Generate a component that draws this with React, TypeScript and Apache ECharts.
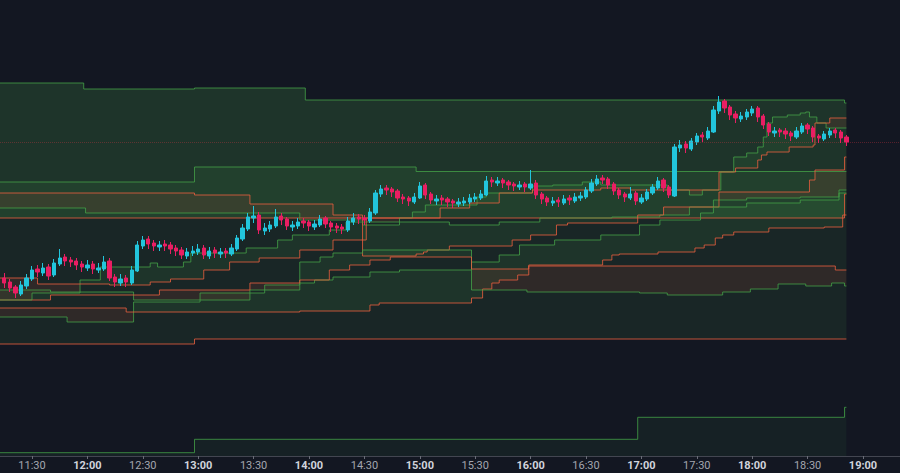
import React, { useEffect, useRef } from "react";
import * as echarts from "echarts";

// ---------- data ----------
const END_TIME = "18:51";
const CANDLE_START = "11:15";
const CANDLE_STEP_MIN = 3;

// [open, close, low, high]
const candleOHLC: number[][] = [
  [178,173,168,183],[174,168,164,177],[169,163,158,171],[162,171,160,175],[170,178,167,182],
  [177,186,175,190],[187,184,179,191],[183,188,180,193],[189,180,176,192],[181,193,179,197],
  [192,198,190,207],[199,195,190,202],[196,194,189,199],[195,191,186,198],[192,189,184,195],
  [188,191,185,196],[192,187,182,195],[186,188,183,193],[187,194,185,200],[195,178,175,198],
  [179,174,169,182],[173,177,170,182],[178,174,169,181],[173,186,171,190],[185,211,184,215],
  [210,216,207,220],[217,212,207,220],[213,210,205,216],[209,211,205,215],[212,210,205,216],
  [211,207,202,214],[208,205,200,211],[206,201,197,209],[200,204,197,208],[203,205,200,210],
  [204,207,201,212],[208,201,197,211],[200,205,197,209],[206,203,198,209],[202,204,198,208],
  [205,203,198,208],[202,208,200,212],[207,218,205,221],[217,228,215,232],[227,239,225,243],
  [238,240,233,250],[241,226,222,244],[225,228,221,233],[227,231,224,235],[230,239,228,247],
  [240,236,231,243],[237,230,226,239],[229,231,225,235],[230,234,227,238],[235,233,228,238],
  [234,230,225,236],[229,232,226,236],[231,237,229,241],[238,232,228,240],[233,229,224,235],
  [230,228,223,233],[229,227,222,232],[226,235,224,239],[234,238,231,243],[239,237,232,242],
  [238,236,231,241],[235,244,233,248],[243,263,241,266],[262,267,259,271],[268,266,261,271],
  [267,264,259,269],[265,258,254,267],[259,257,252,262],[258,255,250,260],[254,259,252,263],
  [258,270,257,274],[271,261,257,273],[262,256,252,264],[255,257,251,261],[258,256,251,261],
  [257,254,249,259],[255,253,248,257],[252,254,249,258],[253,255,250,259],[254,258,252,262],
  [257,259,254,263],[258,262,256,266],[261,275,260,280],[276,274,269,279],[273,275,270,279],
  [276,273,268,278],[274,271,266,276],[272,270,265,274],[269,271,266,275],[272,269,264,274],
  [268,272,266,286],[273,261,257,276],[262,257,252,264],[258,254,250,260],[253,255,250,259],
  [256,254,249,259],[253,257,251,261],[258,256,251,261],[255,259,253,263],[258,260,255,264],
  [259,266,257,269],[265,273,263,277],[272,277,270,281],[278,276,272,281],[277,271,267,279],
  [272,265,261,274],[266,261,257,268],[262,259,254,264],[258,262,256,269],[263,255,251,265],
  [254,258,252,262],[257,264,255,267],[263,269,261,272],[268,275,266,279],[276,268,264,278],
  [269,261,258,271],[260,309,259,312],[308,311,304,316],[312,308,303,315],[307,315,305,318],
  [314,320,311,323],[321,319,314,324],[318,325,316,329],[324,346,323,350],[345,354,342,360],
  [355,348,343,357],[349,341,336,351],[342,338,333,345],[337,340,334,344],[339,344,336,347],
  [343,347,340,350],[348,339,334,350],[340,331,327,342],[332,324,320,334],[323,325,319,329],
  [326,324,319,328],[325,322,317,328],[323,320,315,325],[319,325,317,329],[324,330,322,333],
  [331,327,322,333],[328,319,314,330],[320,318,313,322],[317,322,315,325],[321,325,318,328],
  [326,323,318,328],[324,318,313,326],[319,314,310,321],
];

const axisTickTimes = ["11:30","12:00","12:30","13:00","13:30","14:00","14:30","15:00","15:30","16:00","16:30","17:00","17:30","18:00","18:30","19:00"];

type P = [string, number];
// Cloud A (slow)
const cloudAGreen: P[] = [["11:12",373],["11:58",367],["12:58",368],["13:58",356],["18:50",353]];
const cloudARed: P[] = [["11:12",112],["12:58",117]];
// Cloud B
const cloudBGreen: P[] = [["11:12",274],["12:58",289],["14:58",284.5]];
const cloudBRed: P[] = [["11:12",238],["18:49",238],["18:50",262]];
// Cloud C
const cloudCRed: P[] = [["11:12",263],["12:58",261],["13:28",252],["14:13",241],["14:29",200],["14:58",202],["15:02",204],["15:04",206],["15:16",210],["15:50",216],["16:00",221],["16:14",231],["16:20",233],["16:58",241],["17:12",249],["17:42",264],["18:31",276],["18:34",286],["18:50",299]];
const cloudCGreen: P[] = [["11:12",248],["11:59",243],["13:55",236],["14:29",231],["14:49",234],["15:16",231],["15:43",234],["16:05",238],["16:44",239],["17:10",241],["17:26",249],["17:39",256],["17:57",258],["18:26",259],["18:47",266]];
// Cloud D
const cloudDRed: P[] = [["11:12",148],["12:21",144],["13:55",145],["14:33",151],["14:38",153],["15:28",158],["15:34",167],["15:39",173],["15:43",176],["15:53",181],["15:59",191],["16:39",196],["16:44",201],["16:48",202],["17:09",204],["17:29",208],["17:34",211],["17:40",218],["17:44",221],["17:50",224],["18:09",228],["18:39",229],["18:49",241]];
const cloudDGreen: P[] = [["11:12",139],["11:49",134],["12:25",154],["13:01",163],["13:36",171],["13:55",173],["14:03",176],["14:13",179],["14:33",184],["14:49",186],["15:28",194],["15:43",201],["15:54",211],["16:13",216],["16:38",221],["16:59",231],["17:10",236],["17:32",243],["17:39",249],["17:57",253],["18:26",256],["18:47",263]];
// Cloud E
const cloudERed: P[] = [["11:12",156],["11:40",161],["12:39",166],["13:28",173],["13:55",176],["14:11",186],["14:22",191],["14:33",196],["14:44",199],["15:28",187],["15:59",190],["18:45",186]];
const cloudEGreen: P[] = [["11:12",166],["11:40",164],["12:25",156],["13:28",166],["13:55",194],["14:06",199],["14:13",203],["14:29",206],["15:28",166],["15:58",164],["16:59",163],["17:14",161],["17:44",164],["17:59",167],["18:14",172],["18:29",170],["18:43",173],["18:50",170]];
// Cloud F (fast)
const cloudFRed: P[] = [["11:12",178],["11:33",172],["12:12",171],["12:34",174],["12:45",177],["13:03",186],["13:17",194],["13:33",198],["13:55",206],["14:13",216],["14:31",238],["15:11",248],["15:27",253],["15:43",263],["16:01",266],["16:38",268],["16:54",266],["17:42",284],["17:51",288],["18:03",296],["18:05",301],["18:08",304],["18:20",309],["18:33",311],["18:34",333],["18:42",338]];
const cloudFGreen: P[] = [["11:12",156],["11:30",163],["11:56",176],["12:07",189],["12:34",193],["12:38",189],["12:52",194],["12:56",203],["13:26",208],["13:43",216],["13:51",221],["14:11",226],["14:20",234],["14:49",238],["14:56",244],["15:03",251],["15:31",259],["15:36",263],["16:01",270],["16:12",271],["16:28",274],["16:38",271],["17:14",266],["17:26",261],["17:33",266],["17:43",284],["17:50",299],["17:57",303],["18:03",309],["18:06",319],["18:08",333],["18:11",339],["18:19",341],["18:26",343],["18:29",344],["18:31",339],["18:35",333],["18:40",328]];
// Lower indicator
const lowerIndicator: P[] = [["11:12",3.3],["12:58",16.7],["16:58",38.7],["18:50",48.7]];

// ---------- helpers ----------
const toMin = (s: string) => {
  const [h, m] = s.split(":").map(Number);
  return h * 60 + m;
};
const toPts = (line: P[]): number[][] => {
  const pts = line.map(([tt, v]) => [toMin(tt), v]);
  pts.push([toMin(END_TIME), line[line.length - 1][1]]);
  return pts;
};
const stepVal = (pts: number[][], tt: number) => {
  let v = pts[0][1];
  for (const p of pts) {
    if (p[0] <= tt) v = p[1];
    else break;
  }
  return v;
};
type Poly = { up: boolean; pts: number[][] };
const cloudPolys = (green: P[], red: P[]): Poly[] => {
  const g = toPts(green);
  const r = toPts(red);
  const ts = Array.from(new Set([...g.map((p) => p[0]), ...r.map((p) => p[0])])).sort((a, b) => a - b);
  const out: Poly[] = [];
  let cur: { up: boolean; top: number[][]; bot: number[][] } | null = null;
  for (let k = 0; k < ts.length - 1; k++) {
    const t0 = ts[k], t1 = ts[k + 1];
    const a = stepVal(g, t0), b = stepVal(r, t0);
    const up = a >= b;
    if (!cur || cur.up !== up) {
      if (cur) out.push({ up: cur.up, pts: [...cur.top, ...cur.bot.reverse()] });
      cur = { up, top: [], bot: [] };
    }
    const hi = Math.max(a, b), lo = Math.min(a, b);
    cur.top.push([t0, hi], [t1, hi]);
    cur.bot.push([t0, lo], [t1, lo]);
  }
  if (cur) out.push({ up: cur.up, pts: [...cur.top, ...cur.bot.reverse()] });
  return out;
};

const X_MIN = 672.67;
const X_MAX = 1160.03;
const BG = "#131722";
const GREEN_LINE = "#43A047";
const RED_LINE = "#EA5F3E";
const GREEN_FILL = "rgba(76,175,80,0.1)";
const RED_FILL = "rgba(244,67,54,0.1)";

export default function App() {
  const ref = useRef<HTMLDivElement>(null);
  useEffect(() => {
    if (!ref.current) return;
    const chart = echarts.init(ref.current, undefined, { renderer: "svg" });

    const clouds: [P[], P[]][] = [
      [cloudAGreen, cloudARed],
      [cloudAGreen, cloudBRed],
      [cloudBGreen, cloudBRed],
      [cloudCGreen, cloudCRed],
      [cloudDGreen, cloudDRed],
      [cloudEGreen, cloudERed],
      [cloudFGreen, cloudFRed],
    ];
    const fillSeries = clouds.map(([g, r]) => {
      const polys = cloudPolys(g, r);
      return {
        type: "custom",
        coordinateSystem: "cartesian2d",
        silent: true,
        clip: true,
        z: 1,
        data: polys.map((p) => [p.pts[0][0], p.pts[0][1]]),
        encode: { x: 0, y: 1 },
        renderItem: (params: any, api: any) => {
          const poly = polys[params.dataIndex];
          return {
            type: "polygon",
            shape: { points: poly.pts.map((p) => api.coord(p)) },
            style: { fill: poly.up ? GREEN_FILL : RED_FILL },
            silent: true,
          };
        },
      };
    });

    const lineDefs: [P[], string][] = [
      [cloudAGreen, GREEN_LINE], [cloudARed, RED_LINE],
      [cloudBGreen, GREEN_LINE], [cloudBRed, RED_LINE],
      [cloudCGreen, GREEN_LINE], [cloudCRed, RED_LINE],
      [cloudDGreen, GREEN_LINE], [cloudDRed, RED_LINE],
      [cloudEGreen, GREEN_LINE], [cloudERed, RED_LINE],
      [cloudFGreen, GREEN_LINE], [cloudFRed, RED_LINE],
    ];
    const lineSeries = lineDefs.map(([l, c]) => ({
      type: "line",
      step: "end",
      showSymbol: false,
      silent: true,
      z: 2,
      data: toPts(l),
      lineStyle: { color: c, width: 1, opacity: 0.8 },
    }));

    const candleData = candleOHLC.map((c, i) => [toMin(CANDLE_START) + i * CANDLE_STEP_MIN, c[0], c[1], c[2], c[3]]);
    const lastClose = candleOHLC[candleOHLC.length - 1][1];

    const tickVals = axisTickTimes.map(toMin);

    chart.setOption({
      animation: false,
      backgroundColor: BG,
      grid: { left: 0, right: 0, top: 0, bottom: 17, containLabel: false },
      xAxis: {
        type: "value",
        min: X_MIN,
        max: X_MAX,
        axisLine: { show: true, lineStyle: { color: "#434651", width: 1 } },
        axisTick: { show: true, customValues: tickVals, length: 3, lineStyle: { color: "#6a6d78" } },
        splitLine: { show: false },
        axisLabel: {
          customValues: tickVals,
          margin: 4,
          fontSize: 11,
          fontFamily: "Roboto, 'Noto Sans', sans-serif",
          formatter: (val: number) => {
            const h = Math.floor(val / 60);
            const m = Math.round(val - h * 60);
            const s = `${h}:${m < 10 ? "0" + m : m}`;
            return m === 0 ? `{b|${s}}` : `{n|${s}}`;
          },
          rich: {
            b: { color: "#d1d4dc", fontWeight: "bold", fontSize: 11, fontFamily: "Roboto, sans-serif" },
            n: { color: "#a3a6af", fontSize: 11, fontFamily: "Roboto, sans-serif" },
          },
        },
      },
      yAxis: {
        type: "value",
        min: 0,
        max: 456,
        show: false,
        splitLine: { show: false },
      },
      series: [
        ...fillSeries,
        ...lineSeries,
        {
          type: "line",
          step: "end",
          showSymbol: false,
          silent: true,
          z: 2,
          data: toPts(lowerIndicator),
          lineStyle: { color: GREEN_LINE, width: 1, opacity: 0.8 },
          areaStyle: { color: GREEN_FILL },
        },
        {
          type: "candlestick",
          z: 3,
          silent: true,
          barWidth: 3.8,
          encode: { x: 0, y: [1, 2, 3, 4] },
          data: candleData,
          itemStyle: {
            color: "#22C5DC",
            color0: "#E91E63",
            borderColor: "#22C5DC",
            borderColor0: "#E91E63",
            borderWidth: 1,
          },
          markLine: {
            silent: true,
            symbol: ["none", "none"],
            label: { show: false },
            lineStyle: { type: "dotted", color: "rgba(242,54,69,0.3)", width: 1 },
            data: [{ yAxis: lastClose }],
          },
        },
      ],
    });
    return () => chart.dispose();
  }, []);

  return (
    <div
      ref={ref}
      style={{ position: "fixed", left: 0, top: 0, width: 900, height: 473, background: BG }}
    />
  );
}
